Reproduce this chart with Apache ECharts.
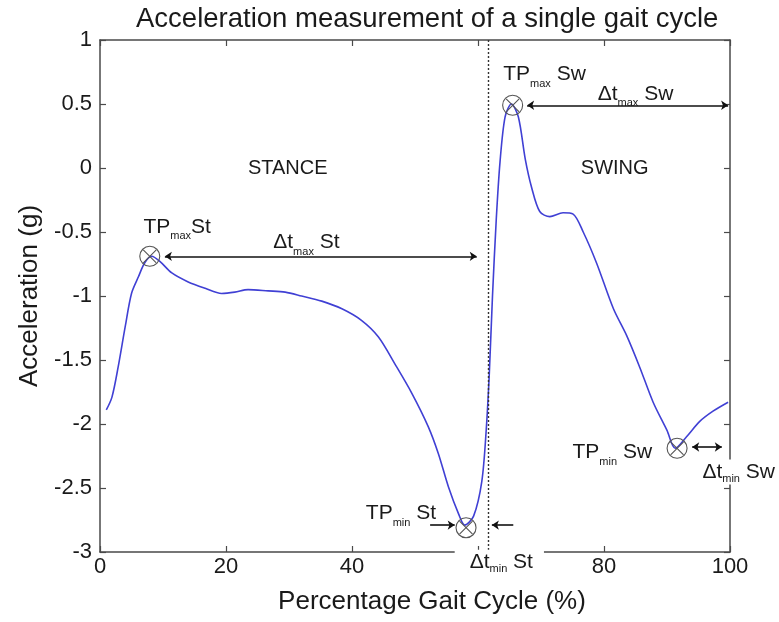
<!DOCTYPE html>
<html>
<head>
<meta charset="utf-8">
<script src="https://cdn.jsdelivr.net/npm/echarts@6/dist/echarts.min.js"></script>
<style>html,body{margin:0;padding:0;background:#fff}#c{width:779px;height:622px}</style>
</head>
<body>
<div id="c"></div>
<script>
// ---- data ----
const gaitPct = [1.0,1.9,2.9,4.0,5.0,6.1,7.1,8.2,9.5,11.4,14.0,16.7,19.3,21.4,23.5,26.7,29.4,32.0,35.2,38.4,41.5,44.2,46.8,49.5,52.1,53.7,55.3,56.9,57.9,59.3,60.6,61.3,61.8,62.3,62.9,63.5,64.3,65.3,66.4,67.5,68.5,69.8,71.4,73.5,75.1,76.7,78.8,81.5,83.6,85.7,87.8,90.0,91.3,93.1,95.2,97.3,99.7];
const accel = [-1.89,-1.79,-1.55,-1.24,-0.98,-0.85,-0.74,-0.69,-0.73,-0.82,-0.89,-0.94,-0.98,-0.97,-0.95,-0.96,-0.97,-1.00,-1.04,-1.10,-1.19,-1.32,-1.53,-1.76,-2.02,-2.23,-2.49,-2.70,-2.79,-2.72,-2.45,-2.05,-1.60,-1.00,-0.40,0.05,0.40,0.50,0.40,0.07,-0.15,-0.34,-0.38,-0.35,-0.36,-0.50,-0.74,-1.10,-1.31,-1.56,-1.83,-2.05,-2.19,-2.10,-1.98,-1.90,-1.83];
const turningPoints = [[7.9,-0.69],[58.1,-2.81],[65.5,0.49],[91.6,-2.19]];
const phaseBoundary = 61.6;
const hiddenXTick = 60;
// arrows: [x1, y1, x2, y2, startHead, endHead]
const arrows = [
  [10.3,-0.69,59.8,-0.69,true,true],
  [67.8,0.49,99.7,0.49,true,true],
  [52.4,-2.79,56.3,-2.79,false,true],
  [65.6,-2.79,62.2,-2.79,false,true],
  [94.0,-2.18,98.7,-2.18,true,true]
];
// annotation texts: [x, y, main, sub, rest, whiteBgPadLeft, whiteBgPadRight]
const phaseLabels = [[29.8,0.0,'STANCE'],[81.7,0.0,'SWING']];
const tpLabels = [
  [6.9,-0.46,'TP','max','St',null,null],
  [27.5,-0.58,'\u0394t','max',' St',null,null],
  [64.0,0.73,'TP','max',' Sw',null,null],
  [79.0,0.58,'\u0394t','max',' Sw',null,null],
  [42.2,-2.70,'TP','min',' St',null,null],
  [56.3,-3.08,'\u0394t','min',' St',15,11],
  [75.0,-2.22,'TP','min',' Sw',null,null],
  [95.3,-2.375,'\u0394t','min',' Sw',2,4]
];

// ---- chart ----
const FF = 'Liberation Sans, Arial, sans-serif';
const AX = '#4a4a4a';
const TXT = '#1a1a1a';
const chart = echarts.init(document.getElementById('c'));

const axisCommon = {
  axisLine: {show: true, onZero: false, lineStyle: {color: AX, width: 1.5}},
  axisTick: {show: true, inside: true, length: 6, lineStyle: {color: AX, width: 1.2}},
  splitLine: {show: false}
};

const arrowLines = arrows.map(a => [
  {coord: [a[0], a[1]], symbol: a[4] ? 'arrow' : 'none'},
  {coord: [a[2], a[3]], symbol: a[5] ? 'arrow' : 'none'}
]);

chart.setOption({
  animation: false,
  backgroundColor: '#fff',
  title: {
    text: 'Acceleration measurement of a single gait cycle',
    left: 131, top: 0,
    textStyle: {fontFamily: FF, fontSize: 27.5, fontWeight: 'normal', color: TXT}
  },
  grid: {left: 100, right: 49, top: 40, bottom: 70},
  xAxis: [
    Object.assign({
      type: 'value', position: 'bottom', min: 0, max: 100, interval: 20,
      axisLabel: {formatter: v => v === hiddenXTick ? '' : String(v), fontFamily: FF, fontSize: 22, color: TXT, margin: 4},
      name: 'Percentage Gait Cycle (%)', nameLocation: 'middle', nameGap: 37,
      nameTextStyle: {fontFamily: FF, fontSize: 26, color: TXT, padding: [0, 0, 0, 34]}
    }, axisCommon),
    Object.assign({
      type: 'value', position: 'top', min: 0, max: 100, interval: 20,
      axisLabel: {show: false}
    }, axisCommon)
  ],
  yAxis: [
    Object.assign({
      type: 'value', position: 'left', min: -3, max: 1, interval: 0.5,
      axisLabel: {fontFamily: FF, fontSize: 22, color: TXT, margin: 8},
      name: 'Acceleration (g)', nameLocation: 'middle', nameGap: 55,
      nameTextStyle: {fontFamily: FF, fontSize: 26, color: TXT}
    }, axisCommon),
    Object.assign({
      type: 'value', position: 'right', min: -3, max: 1, interval: 0.5,
      axisLabel: {show: false}
    }, axisCommon)
  ],
  series: [
    {
      type: 'line',
      data: gaitPct.map((x, i) => [x, accel[i]]),
      showSymbol: false, symbol: 'none', smooth: 0.3,
      lineStyle: {color: '#4040d4', width: 1.6},
      z: 3,
      markLine: {
        silent: true, animation: false,
        symbolSize: 7,
        label: {show: false},
        lineStyle: {color: '#111', width: 1.6, type: 'solid'},
        data: arrowLines.concat([[
          {coord: [phaseBoundary, 1], symbol: 'none', lineStyle: {color: '#333', width: 1.4, type: [2, 2]}},
          {coord: [phaseBoundary, -3], symbol: 'none'}
        ]])
      }
    },
    {
      type: 'scatter', clip: false, z: 4,
      data: turningPoints,
      symbol: 'circle', symbolSize: 20,
      itemStyle: {color: 'rgba(0,0,0,0)', borderColor: '#555', borderWidth: 1.1, opacity: 1}
    },
    {
      type: 'scatter', clip: false, z: 4,
      data: turningPoints,
      symbol: 'path://M0,0L10,10M10,0L0,10', symbolSize: 13,
      itemStyle: {color: 'none', borderColor: '#555', borderWidth: 1.1, opacity: 1}
    },
    {
      type: 'scatter', clip: false, z: 5, silent: true,
      data: phaseLabels.map(p => ({value: [p[0], p[1]], label: {formatter: p[2]}})),
      symbolSize: 1, itemStyle: {color: 'rgba(0,0,0,0)', opacity: 1},
      label: {show: true, position: 'inside', align: 'center', verticalAlign: 'middle',
        fontFamily: FF, fontSize: 20, color: TXT}
    },
    {
      type: 'scatter', clip: false, z: 6, silent: true,
      data: tpLabels.map(p => {
        const bg = p[5] != null;
        const m = bg ? 'mb' : 'm', s = bg ? 'sb' : 's';
        return {
          value: [p[0], p[1]],
          label: {
            formatter: '{' + m + '|' + p[2] + '}{' + s + '|' + p[3] + '}{' + m + '|' + p[4] + '}',
            backgroundColor: bg ? '#fff' : 'transparent',
            padding: bg ? [0, p[6], 0, p[5]] : 0
          }
        };
      }),
      symbolSize: 1, itemStyle: {color: 'rgba(0,0,0,0)', opacity: 1},
      label: {
        show: true, position: 'inside', align: 'left', verticalAlign: 'middle',
        rich: {
          m: {fontFamily: FF, fontSize: 21, color: TXT, lineHeight: 30, verticalAlign: 'middle'},
          s: {fontFamily: FF, fontSize: 11, color: TXT, lineHeight: 30, verticalAlign: 'bottom'},
          mb: {fontFamily: FF, fontSize: 21, color: TXT, lineHeight: 25, verticalAlign: 'middle'},
          sb: {fontFamily: FF, fontSize: 11, color: TXT, lineHeight: 25, verticalAlign: 'bottom'}
        }
      }
    }
  ]
});
</script>
</body>
</html>
